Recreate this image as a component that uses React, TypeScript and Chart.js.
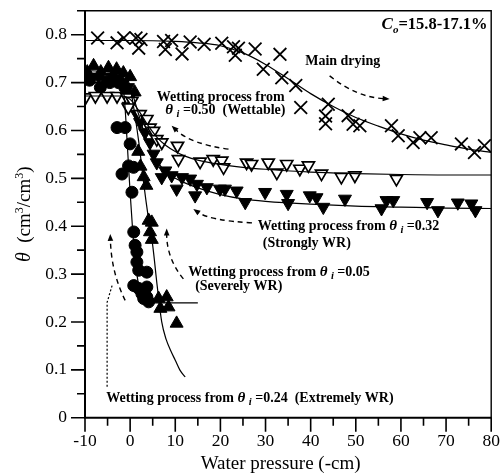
import React, { useEffect, useRef } from "react";
import { Chart, registerables } from "chart.js";

Chart.register(...registerables);

const SERIF = '"Liberation Serif", "Times New Roman", Times, serif';

// ---- axes ----
const xMin = -10;
const xMax = 80;
const yMin = 0;
const yMax = 0.85;
const xStep = 10;
const yStep = 0.1;
const xTitle = "Water pressure (-cm)";

// ---- Main drying (x) ----
const dryX = [-7.2, -2.9, -1.4, 1.3, 2.4, 1.9, 7.4, 7.8, 9.2, 11.5, 13.3, 16.4, 20.3, 22.9, 23.3, 24.0, 27.7, 29.5, 33.2, 33.6, 36.7, 37.8, 43.9, 43.3, 43.3, 48.3, 49.4, 50.9, 57.9, 59.4, 62.7, 64.2, 66.7, 73.4, 76.3, 78.5];
const dryY = [0.793, 0.783, 0.793, 0.793, 0.790, 0.772, 0.786, 0.769, 0.788, 0.760, 0.785, 0.780, 0.782, 0.775, 0.757, 0.772, 0.770, 0.728, 0.759, 0.710, 0.694, 0.648, 0.655, 0.630, 0.614, 0.631, 0.613, 0.610, 0.610, 0.589, 0.575, 0.585, 0.585, 0.572, 0.554, 0.568];
const dryFitX = [-10, 0, 10, 15, 20, 25, 30, 35, 40, 45, 50, 55, 60, 65, 70, 75, 80];
const dryFitY = [0.788, 0.788, 0.786, 0.783, 0.777, 0.762, 0.738, 0.708, 0.677, 0.650, 0.627, 0.609, 0.593, 0.580, 0.570, 0.561, 0.554];

// ---- Wetting from 0.50 (open down triangles) ----
const owX = [-9.9, -7.7, -5.1, -2.9, -0.7, 0.4, -0.4, 2.2, 3.7, 4.4, 5.2, 5.9, 7.0, 10.5, 10.7, 15.5, 18.4, 20.3, 20.7, 25.8, 26.9, 30.6, 32.5, 34.7, 37.6, 39.5, 42.4, 46.8, 49.8, 59.0];
const owY = [0.669, 0.672, 0.672, 0.672, 0.669, 0.662, 0.648, 0.634, 0.624, 0.606, 0.599, 0.582, 0.575, 0.568, 0.540, 0.535, 0.540, 0.537, 0.523, 0.533, 0.530, 0.533, 0.512, 0.530, 0.520, 0.527, 0.510, 0.503, 0.506, 0.499];
const owFitX = [-10, -2, 0, 2, 4, 6, 8, 10, 12, 15, 20, 25, 30, 40, 50, 60, 70, 80];
const owFitY = [0.672, 0.672, 0.665, 0.640, 0.610, 0.585, 0.568, 0.556, 0.547, 0.538, 0.529, 0.523, 0.519, 0.513, 0.510, 0.508, 0.507, 0.507];

// ---- Wetting from 0.32 (filled down triangles) ----
const sfX = [-10, -8.5, -7, -5.5, -4, -2.5, -1.5, -0.5, 0.3, -0.35, 1.5, 2.2, 3.3, 4.4, 5.2, 5.9, 7.0, 7.8, 9.2, 10.3, 11.5, 13.3, 14.8, 14.4, 17.0, 19.9, 21.0, 23.6, 25.5, 29.9, 34.7, 35.0, 39.8, 41.3, 42.8, 47.6, 55.7, 56.8, 58.3, 65.8, 68.2, 72.6, 75.6, 76.5];
const sfY = [0.715, 0.710, 0.712, 0.705, 0.712, 0.708, 0.700, 0.690, 0.675, 0.651, 0.634, 0.617, 0.596, 0.575, 0.551, 0.533, 0.502, 0.516, 0.506, 0.478, 0.502, 0.499, 0.488, 0.464, 0.481, 0.478, 0.478, 0.474, 0.450, 0.471, 0.467, 0.448, 0.464, 0.460, 0.440, 0.457, 0.437, 0.454, 0.454, 0.450, 0.433, 0.449, 0.447, 0.433];
const sfFitX = [-10, -2, 0, 2, 4, 6, 8, 10, 12, 15, 20, 25, 30, 40, 50, 60, 70, 80];
const sfFitY = [0.712, 0.710, 0.690, 0.630, 0.570, 0.535, 0.513, 0.500, 0.491, 0.480, 0.466, 0.457, 0.452, 0.446, 0.442, 0.440, 0.438, 0.437];

// ---- Wetting from 0.05 (filled circles) ----
const svX = [-9.0, -6.6, -4.5, -2.6, -1.2, -2.9, -1.1, 0.0, -0.35, 0.75, -1.8, 0.4, 0.8, 1.1, 1.5, 1.5, 1.9, 3.7, 0.8, 1.9, 3.7, 2.6, 3.7, 4.1, 3.0];
const svY = [0.705, 0.690, 0.700, 0.700, 0.690, 0.606, 0.606, 0.572, 0.526, 0.523, 0.509, 0.471, 0.388, 0.360, 0.346, 0.325, 0.308, 0.304, 0.276, 0.270, 0.273, 0.259, 0.252, 0.242, 0.249];
const svFitX = [-10, -3, -1.5, -1, -0.5, 0, 0.5, 1, 1.5, 2, 3, 4.1, 15];
const svFitY = [0.700, 0.700, 0.685, 0.630, 0.550, 0.470, 0.400, 0.340, 0.300, 0.272, 0.250, 0.240, 0.240];

// ---- Wetting from 0.24 (filled up triangles) ----
const exX = [-9.5, -8.1, -6.5, -4.8, -3.0, -1.5, 0.0, 1.0, 1.8, 2.3, 3.0, 3.6, 4.1, 4.8, 4.4, 4.8, 6.3, 8.1, 6.7, 8.5, 10.3];
const exY = [0.722, 0.735, 0.722, 0.731, 0.728, 0.720, 0.712, 0.680, 0.556, 0.525, 0.503, 0.485, 0.412, 0.408, 0.388, 0.372, 0.249, 0.252, 0.228, 0.231, 0.197];
const exFitX = [-10, -1, 0, 1, 2, 3, 4, 5, 6, 7, 8, 9, 10, 11, 12.2];
const exFitY = [0.725, 0.715, 0.690, 0.635, 0.570, 0.490, 0.420, 0.360, 0.275, 0.200, 0.163, 0.140, 0.120, 0.100, 0.085];

// ---- annotation texts (anchor in data units) ----
const coText = ["C", "o", "=15.8-17.1%"];
const coPos = [79.2, 0.811];
const dryLabel = "Main drying";
const dryLabelPos = [47.1, 0.737];
const wetLine1 = "Wetting process from ";
const wet050 = ["=0.50  (Wettable)"];
const wet050Pos = [[5.9, 0.662], [7.8, 0.635]];
const wet032 = ["=0.32", "(Strongly WR)"];
const wet032Pos = [[28.3, 0.393], [29.4, 0.357]];
const wet005 = ["=0.05", "(Severely WR)"];
const wet005Pos = [[12.9, 0.297], [14.4, 0.266]];
const wet024 = ["=0.24  (Extremely WR)"];
const wet024Pos = [-5.3, 0.033];

// dashed arrows: [startX, startY, ctrlX, ctrlY, endX, endY]
const arrowCurves = [
  [44.2, 0.714, 50.2, 0.669, 57.5, 0.666],
  [21.8, 0.561, 13.3, 0.572, 9.2, 0.610],
  [27.0, 0.407, 17.6, 0.412, 14.0, 0.436],
  [11.8, 0.290, 8.1, 0.333, 8.1, 0.395],
  [-1.1, 0.245, -4.2, 0.304, -4.4, 0.384],
];
const dottedX = [-4.0, -5.1, -5.1];
const dottedY = [0.276, 0.241, 0.062];

const pts = (xs: number[], ys: number[]) => xs.map((x, i) => ({ x, y: ys[i] }));

type Seg = [string, string, number?];

function drawRich(ctx: CanvasRenderingContext2D, segs: Seg[], x: number, y: number, align: string) {
  let w = 0;
  segs.forEach((s) => {
    ctx.font = s[1];
    w += ctx.measureText(s[0]).width;
  });
  let cx = align === "center" ? x - w / 2 : align === "right" ? x - w : x;
  segs.forEach((s) => {
    ctx.font = s[1];
    ctx.fillText(s[0], cx, y + (s[2] || 0));
    cx += ctx.measureText(s[0]).width;
  });
}

const B = `bold 14px ${SERIF}`;
const BI = `italic bold 15px ${SERIF}`;
const SUB = `italic bold 10.5px ${SERIF}`;
const theta = (val: string): Seg[] => [
  ["θ", BI],
  [" ", B],
  ["i", SUB, 3],
  [" " + val, B],
];

const framePlugin = {
  id: "frameAndNotes",
  afterDatasetsDraw(chart: any) {
    const { ctx, chartArea: a, scales } = chart;
    const xs = scales.x;
    const ys = scales.y;
    ctx.save();
    ctx.strokeStyle = "#000";
    ctx.setLineDash([]);
    ctx.lineWidth = 1.4;
    ctx.beginPath();
    ctx.moveTo(a.left, a.top);
    ctx.lineTo(a.right, a.top);
    ctx.lineTo(a.right, a.bottom);
    ctx.stroke();
    ctx.lineWidth = 2;
    ctx.beginPath();
    ctx.moveTo(a.left, a.top - 0.7);
    ctx.lineTo(a.left, a.bottom);
    ctx.lineTo(a.right + 0.7, a.bottom);
    ctx.stroke();
    ctx.lineWidth = 1.6;
    ctx.beginPath();
    const xt = xs.ticks.map((t: any) => t.value);
    xt.forEach((v: number, i: number) => {
      const p = xs.getPixelForValue(v);
      ctx.moveTo(p, a.bottom);
      ctx.lineTo(p, a.bottom + 14);
      if (i < xt.length - 1) {
        const m = xs.getPixelForValue((v + xt[i + 1]) / 2);
        ctx.moveTo(m, a.bottom);
        ctx.lineTo(m, a.bottom + 8);
      }
    });
    const yt = ys.ticks.map((t: any) => t.value).filter((v: number) => Math.abs(v * 10 - Math.round(v * 10)) < 1e-6);
    yt.forEach((v: number) => {
      const p = ys.getPixelForValue(v);
      ctx.moveTo(a.left, p);
      ctx.lineTo(a.left - 14, p);
      const mv = v + 0.05;
      if (mv <= yMax + 1e-9) {
        const m = ys.getPixelForValue(mv);
        ctx.moveTo(a.left, m);
        ctx.lineTo(a.left - 8, m);
      }
    });
    ctx.stroke();
    ctx.restore();
  },
  afterDraw(chart: any) {
    const { ctx, chartArea: a, scales } = chart;
    const xs = scales.x;
    const ys = scales.y;
    const X = (v: number) => xs.getPixelForValue(v);
    const Y = (v: number) => ys.getPixelForValue(v);
    ctx.save();
    ctx.fillStyle = "#000";
    ctx.strokeStyle = "#000";
    ctx.textAlign = "left";
    ctx.textBaseline = "alphabetic";

    ctx.font = `19px ${SERIF}`;
    ctx.textAlign = "center";
    ctx.fillText(xTitle, (a.left + a.right) / 2 - 7.5, a.bottom + 51);
    ctx.textAlign = "left";
    ctx.save();
    ctx.translate(23, (a.top + a.bottom) / 2);
    ctx.rotate(-Math.PI / 2);
    drawRich(
      ctx,
      [
        ["θ", `italic 20px ${SERIF}`],
        ["  (cm", `19px ${SERIF}`],
        ["3", `12px ${SERIF}`, -7],
        ["/cm", `19px ${SERIF}`],
        ["3", `12px ${SERIF}`, -7],
        [")", `19px ${SERIF}`],
      ],
      0,
      6.5,
      "center"
    );
    ctx.restore();

    drawRich(
      ctx,
      [
        [coText[0], `italic bold 17px ${SERIF}`],
        [coText[1], `italic bold 11px ${SERIF}`, 4],
        [coText[2], `bold 16.5px ${SERIF}`],
      ],
      X(coPos[0]),
      Y(coPos[1]),
      "right"
    );

    drawRich(ctx, [[dryLabel, B]], X(dryLabelPos[0]), Y(dryLabelPos[1]), "center");
    drawRich(ctx, [[wetLine1.trim(), B]], X(wet050Pos[0][0]), Y(wet050Pos[0][1]), "left");
    drawRich(ctx, theta(wet050[0]), X(wet050Pos[1][0]), Y(wet050Pos[1][1]), "left");
    drawRich(ctx, [[wetLine1, B], ...theta(wet032[0])], X(wet032Pos[0][0]), Y(wet032Pos[0][1]), "left");
    drawRich(ctx, [[wet032[1], B]], X(wet032Pos[1][0]), Y(wet032Pos[1][1]), "left");
    drawRich(ctx, [[wetLine1, B], ...theta(wet005[0])], X(wet005Pos[0][0]), Y(wet005Pos[0][1]), "left");
    drawRich(ctx, [[wet005[1], B]], X(wet005Pos[1][0]), Y(wet005Pos[1][1]), "left");
    drawRich(ctx, [[wetLine1, B], ...theta(wet024[0])], X(wet024Pos[0]), Y(wet024Pos[1]), "left");

    ctx.lineWidth = 1.4;
    arrowCurves.forEach((c) => {
      const sx = X(c[0]), sy = Y(c[1]), cx = X(c[2]), cy = Y(c[3]), ex = X(c[4]), ey = Y(c[5]);
      const ang = Math.atan2(ey - cy, ex - cx);
      const L = 7;
      const bx = ex - Math.cos(ang) * L * 0.8;
      const by = ey - Math.sin(ang) * L * 0.8;
      ctx.setLineDash([5, 4]);
      ctx.beginPath();
      ctx.moveTo(sx, sy);
      ctx.quadraticCurveTo(cx, cy, bx, by);
      ctx.stroke();
      ctx.setLineDash([]);
      ctx.beginPath();
      ctx.moveTo(ex, ey);
      ctx.lineTo(ex - Math.cos(ang) * L + Math.sin(ang) * 2.8, ey - Math.sin(ang) * L - Math.cos(ang) * 2.8);
      ctx.lineTo(ex - Math.cos(ang) * L - Math.sin(ang) * 2.8, ey - Math.sin(ang) * L + Math.cos(ang) * 2.8);
      ctx.closePath();
      ctx.fill();
    });
    ctx.lineWidth = 1.2;
    ctx.setLineDash([2, 2]);
    ctx.beginPath();
    dottedX.forEach((v, i) => {
      if (i === 0) ctx.moveTo(X(v), Y(dottedY[i]));
      else ctx.lineTo(X(v), Y(dottedY[i]));
    });
    ctx.stroke();
    ctx.restore();
  },
};

const fitLine = (xs: number[], ys: number[]) => ({
  data: pts(xs, ys),
  showLine: true,
  borderColor: "#000",
  borderWidth: 1.2,
  pointRadius: 0,
  cubicInterpolationMode: "monotone" as const,
  fill: false,
});

export default function App() {
  const ref = useRef<HTMLCanvasElement>(null);
  useEffect(() => {
    if (!ref.current) return;
    const chart = new Chart(ref.current, {
      type: "scatter",
      data: {
        datasets: [
          fitLine(dryFitX, dryFitY),
          fitLine(owFitX, owFitY),
          fitLine(sfFitX, sfFitY),
          fitLine(svFitX, svFitY),
          fitLine(exFitX, exFitY),
          {
            data: pts(dryX, dryY),
            pointStyle: "crossRot",
            pointRadius: 9,
            borderColor: "#000",
            borderWidth: 1.8,
            backgroundColor: "#000",
          },
          {
            data: pts(owX, owY),
            pointStyle: "triangle",
            rotation: 180,
            pointRadius: 7,
            borderColor: "#000",
            borderWidth: 1.7,
            backgroundColor: "#fff",
          },
          {
            data: pts(sfX, sfY),
            pointStyle: "triangle",
            rotation: 180,
            pointRadius: 7.5,
            borderColor: "#000",
            borderWidth: 1,
            backgroundColor: "#000",
          },
          {
            data: pts(svX, svY),
            pointStyle: "circle",
            pointRadius: 6,
            borderColor: "#000",
            borderWidth: 1,
            backgroundColor: "#000",
          },
          {
            data: pts(exX, exY),
            pointStyle: "triangle",
            pointRadius: 7.5,
            borderColor: "#000",
            borderWidth: 1,
            backgroundColor: "#000",
          },
        ] as any,
      },
      options: {
        animation: false,
        responsive: false,
        maintainAspectRatio: false,
        layout: { padding: { top: 10, right: 10.3, left: 0, bottom: 0 } },
        plugins: { legend: { display: false }, tooltip: { enabled: false } },
        scales: {
          x: {
            type: "linear",
            min: xMin,
            max: xMax,
            grid: { display: false, drawTicks: false },
            border: { display: false },
            ticks: {
              stepSize: xStep,
              padding: 13,
              color: "#000",
              maxRotation: 0,
              autoSkip: false,
              font: { family: SERIF, size: 17.5 },
              callback: (v: any) => String(v),
            },
            afterFit: (s: any) => {
              s.height = 57.3;
              s.paddingLeft = 0;
              s.paddingRight = 0;
            },
          },
          y: {
            type: "linear",
            min: yMin,
            max: yMax,
            grid: { display: false, drawTicks: false },
            border: { display: false },
            ticks: {
              stepSize: yStep,
              padding: 18,
              color: "#000",
              autoSkip: false,
              font: { family: SERIF, size: 17.5 },
              callback: (v: any) => {
                const n = Number(v);
                if (Math.abs(n * 10 - Math.round(n * 10)) > 1e-6) return "";
                return n === 0 ? "0" : n.toFixed(1);
              },
            },
            afterFit: (s: any) => {
              s.width = 85;
              s.paddingTop = 0;
              s.paddingBottom = 0;
            },
          },
        },
      } as any,
      plugins: [framePlugin],
    });
    return () => chart.destroy();
  }, []);
  return (
    <div style={{ position: "absolute", left: 0, top: 0, width: 502, height: 475, background: "#fff" }}>
      <canvas ref={ref} width={502} height={475} style={{ display: "block" }} />
    </div>
  );
}
